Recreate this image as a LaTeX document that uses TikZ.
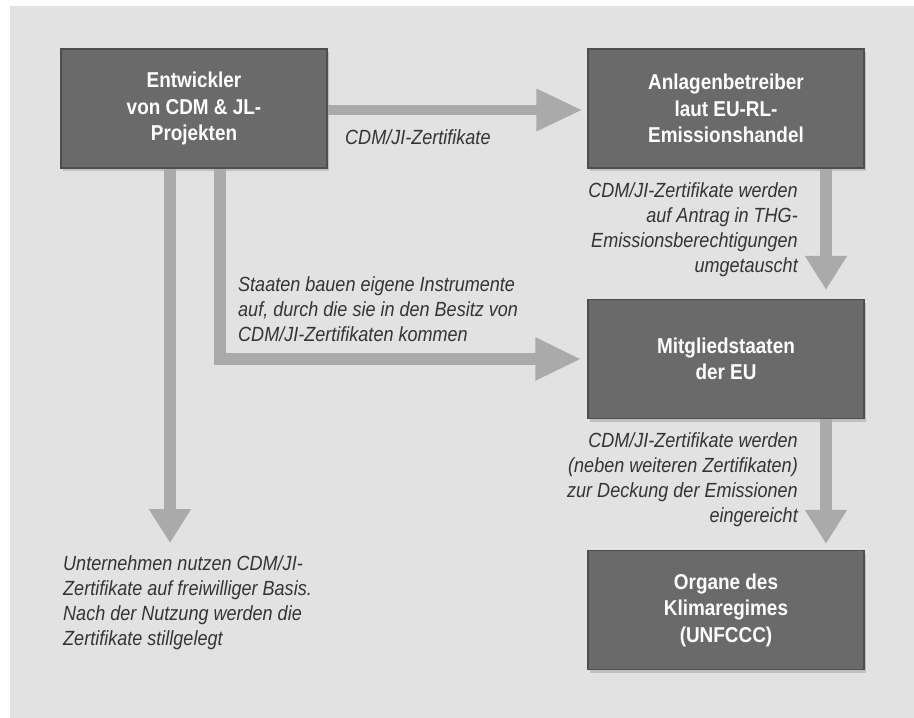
\documentclass[tikz,border=0pt]{standalone}
\usepackage{fontspec}
\setmainfont{Liberation Sans}[FakeStretch=0.88]
\usetikzlibrary{arrows.meta,shadows}
\definecolor{bgc}{RGB}{226,226,226}
\definecolor{boxfill}{RGB}{106,106,106}
\definecolor{boxborder}{RGB}{78,78,78}
\definecolor{arrowc}{RGB}{170,170,170}
\definecolor{textc}{RGB}{52,52,52}
\tikzset{
  boxnode/.style={draw=boxborder, line width=1.5pt, fill=boxfill, text=white,
    font=\bfseries\fontsize{21.5}{26.5}\selectfont, align=center, inner sep=0pt,
    minimum height=119pt,
    drop shadow={shadow xshift=2pt, shadow yshift=-3pt, opacity=0.35}},
  lbl/.style={text=textc, font=\itshape\fontsize{20.5}{25}\selectfont, inner sep=0pt},
  bigarrow/.style={draw=arrowc, line width=12pt, line join=miter,
    -{Triangle[width=40pt,length=34pt]}},
  harrow/.style={bigarrow, -{Triangle[width=40pt,length=46pt]}}
}
\begin{document}
\begin{tikzpicture}[x=1pt,y=-1pt]
\fill[white] (0,0) rectangle (914,718);
\fill[bgc] (10,6) rectangle (914,718);
\useasboundingbox (0,0) rectangle (914,718);

\node[boxnode, minimum width=266pt] (b1) at (194,108.5) {Entwickler\\von CDM \& JL-\\Projekten};
\node[boxnode, minimum width=276pt] (b2) at (726,108.5) {Anlagenbetreiber\\laut EU-RL-\\Emissionshandel};
\node[boxnode, minimum width=276pt] (b3) at (726,359) {Mitgliedstaaten\\der EU};
\node[boxnode, minimum width=276pt] (b4) at (726,610) {Organe des\\Klimaregimes\\(UNFCCC)};

\node[lbl, anchor=west] (l1) at (345,137) {CDM/JI-Zertifikate};
\node[lbl, anchor=north east, align=right] (l2) at (798,182) {CDM/JI-Zertifikate werden\\auf Antrag in THG-\\Emissionsberechtigungen\\umgetauscht};
\node[lbl, anchor=north east, align=right] (l3) at (798,432) {CDM/JI-Zertifikate werden\\(neben weiteren Zertifikaten)\\zur Deckung der Emissionen\\eingereicht};
\node[lbl, anchor=north west, align=left] (l4) at (238,276) {Staaten bauen eigene Instrumente\\auf, durch die sie in den Besitz von\\CDM/JI-Zertifikaten kommen};
\node[lbl, anchor=north west, align=left] (l5) at (63,555) {Unternehmen nutzen CDM/JI-\\Zertifikate auf freiwilliger Basis.\\Nach der Nutzung werden die\\Zertifikate stillgelegt};
\coordinate (c5) at (170,543);

\draw[harrow, line width=10pt] ([yshift=-1.5pt]b1.east) -- ([xshift=-5pt,yshift=-1.5pt]b2.west);
\draw[bigarrow] ([xshift=100pt]b2.south) -- ([xshift=100pt,yshift=9pt]b3.north);
\draw[bigarrow] ([xshift=100pt]b3.south) -- ([xshift=100pt,yshift=6pt]b4.north);
\draw[harrow] ([xshift=26pt]b1.south) |- ([xshift=-6pt]b3.west);
\draw[bigarrow] ([xshift=-24pt]b1.south) -- (c5);
\end{tikzpicture}
\end{document}
